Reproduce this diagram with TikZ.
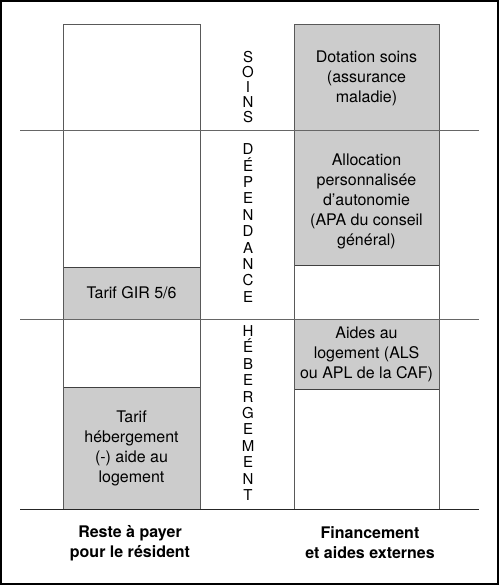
\documentclass[tikz,border=0pt]{standalone}
\usepackage{fontspec}
\setmainfont{TeX Gyre Heros}
\begin{document}
\begin{tikzpicture}[x=1pt,y=-1pt,
  col/.style={draw=black!65,line width=1pt},
  graybox/.style={draw=black!75,fill=black!20,line width=1pt},
  sep/.style={draw=black!60,line width=1pt},
  boxtext/.style={align=center,inner sep=0pt,font=\fontsize{16}{20}\selectfont},
  vtext/.style={align=center,inner sep=0pt,font=\fontsize{15}{16.4}\selectfont},
  foot/.style={align=center,inner sep=0pt,font=\fontsize{16}{20}\bfseries\selectfont}]
\useasboundingbox (0,0) rectangle (499,585);
\draw[line width=1.6pt] (1,1) rectangle (498,584);
% gray boxes
\path[graybox] (63,267) rectangle (200,319);
\path[graybox] (63,387) rectangle (200,509);
\path[graybox] (294,25) rectangle (439,131);
\path[graybox] (294,131) rectangle (439,265);
\path[graybox] (294,319) rectangle (439,389);
% columns
\draw[col] (63,509) -- (63,25) -- (200,25) -- (200,509);
\draw[col] (294,509) -- (294,25) -- (439,25) -- (439,509);
% separators
\draw[sep] (20,131) -- (479,131);
\draw[sep] (20,319) -- (479,319);
\draw[draw=black!85,line width=1pt] (20,509) -- (479,509);
% box texts
\node[boxtext] (dot) at (366.5,78) {Dotation soins\\(assurance\\maladie)};
\node[boxtext] (apa) at (366.5,201) {Allocation\\personnalisée\\d’autonomie\\(APA du conseil\\général)};
\node[boxtext] (als) at (366.5,354) {Aides au\\logement (ALS\\ou APL de la CAF)};
\node[boxtext] (gir) at (131.5,293) {Tarif GIR 5/6};
\node[boxtext] (heb) at (131.5,448.5) {Tarif\\hébergement\\(-) aide au\\logement};
% vertical labels
\node[vtext,font=\fontsize{15}{15}\selectfont] (soins) at (248,87) {S\\O\\I\\N\\S};
\node[vtext] (dep) at (248,223) {D\\É\\P\\E\\N\\D\\A\\N\\C\\E};
\node[vtext] (hebv) at (248,413) {H\\É\\B\\E\\R\\G\\E\\M\\E\\N\\T};
% footers
\node[foot] (reste) at (130,543) {Reste à payer\\pour le résident};
\node[foot] (fin) at (370,543) {Financement\\et aides externes};
\end{tikzpicture}
\end{document}
